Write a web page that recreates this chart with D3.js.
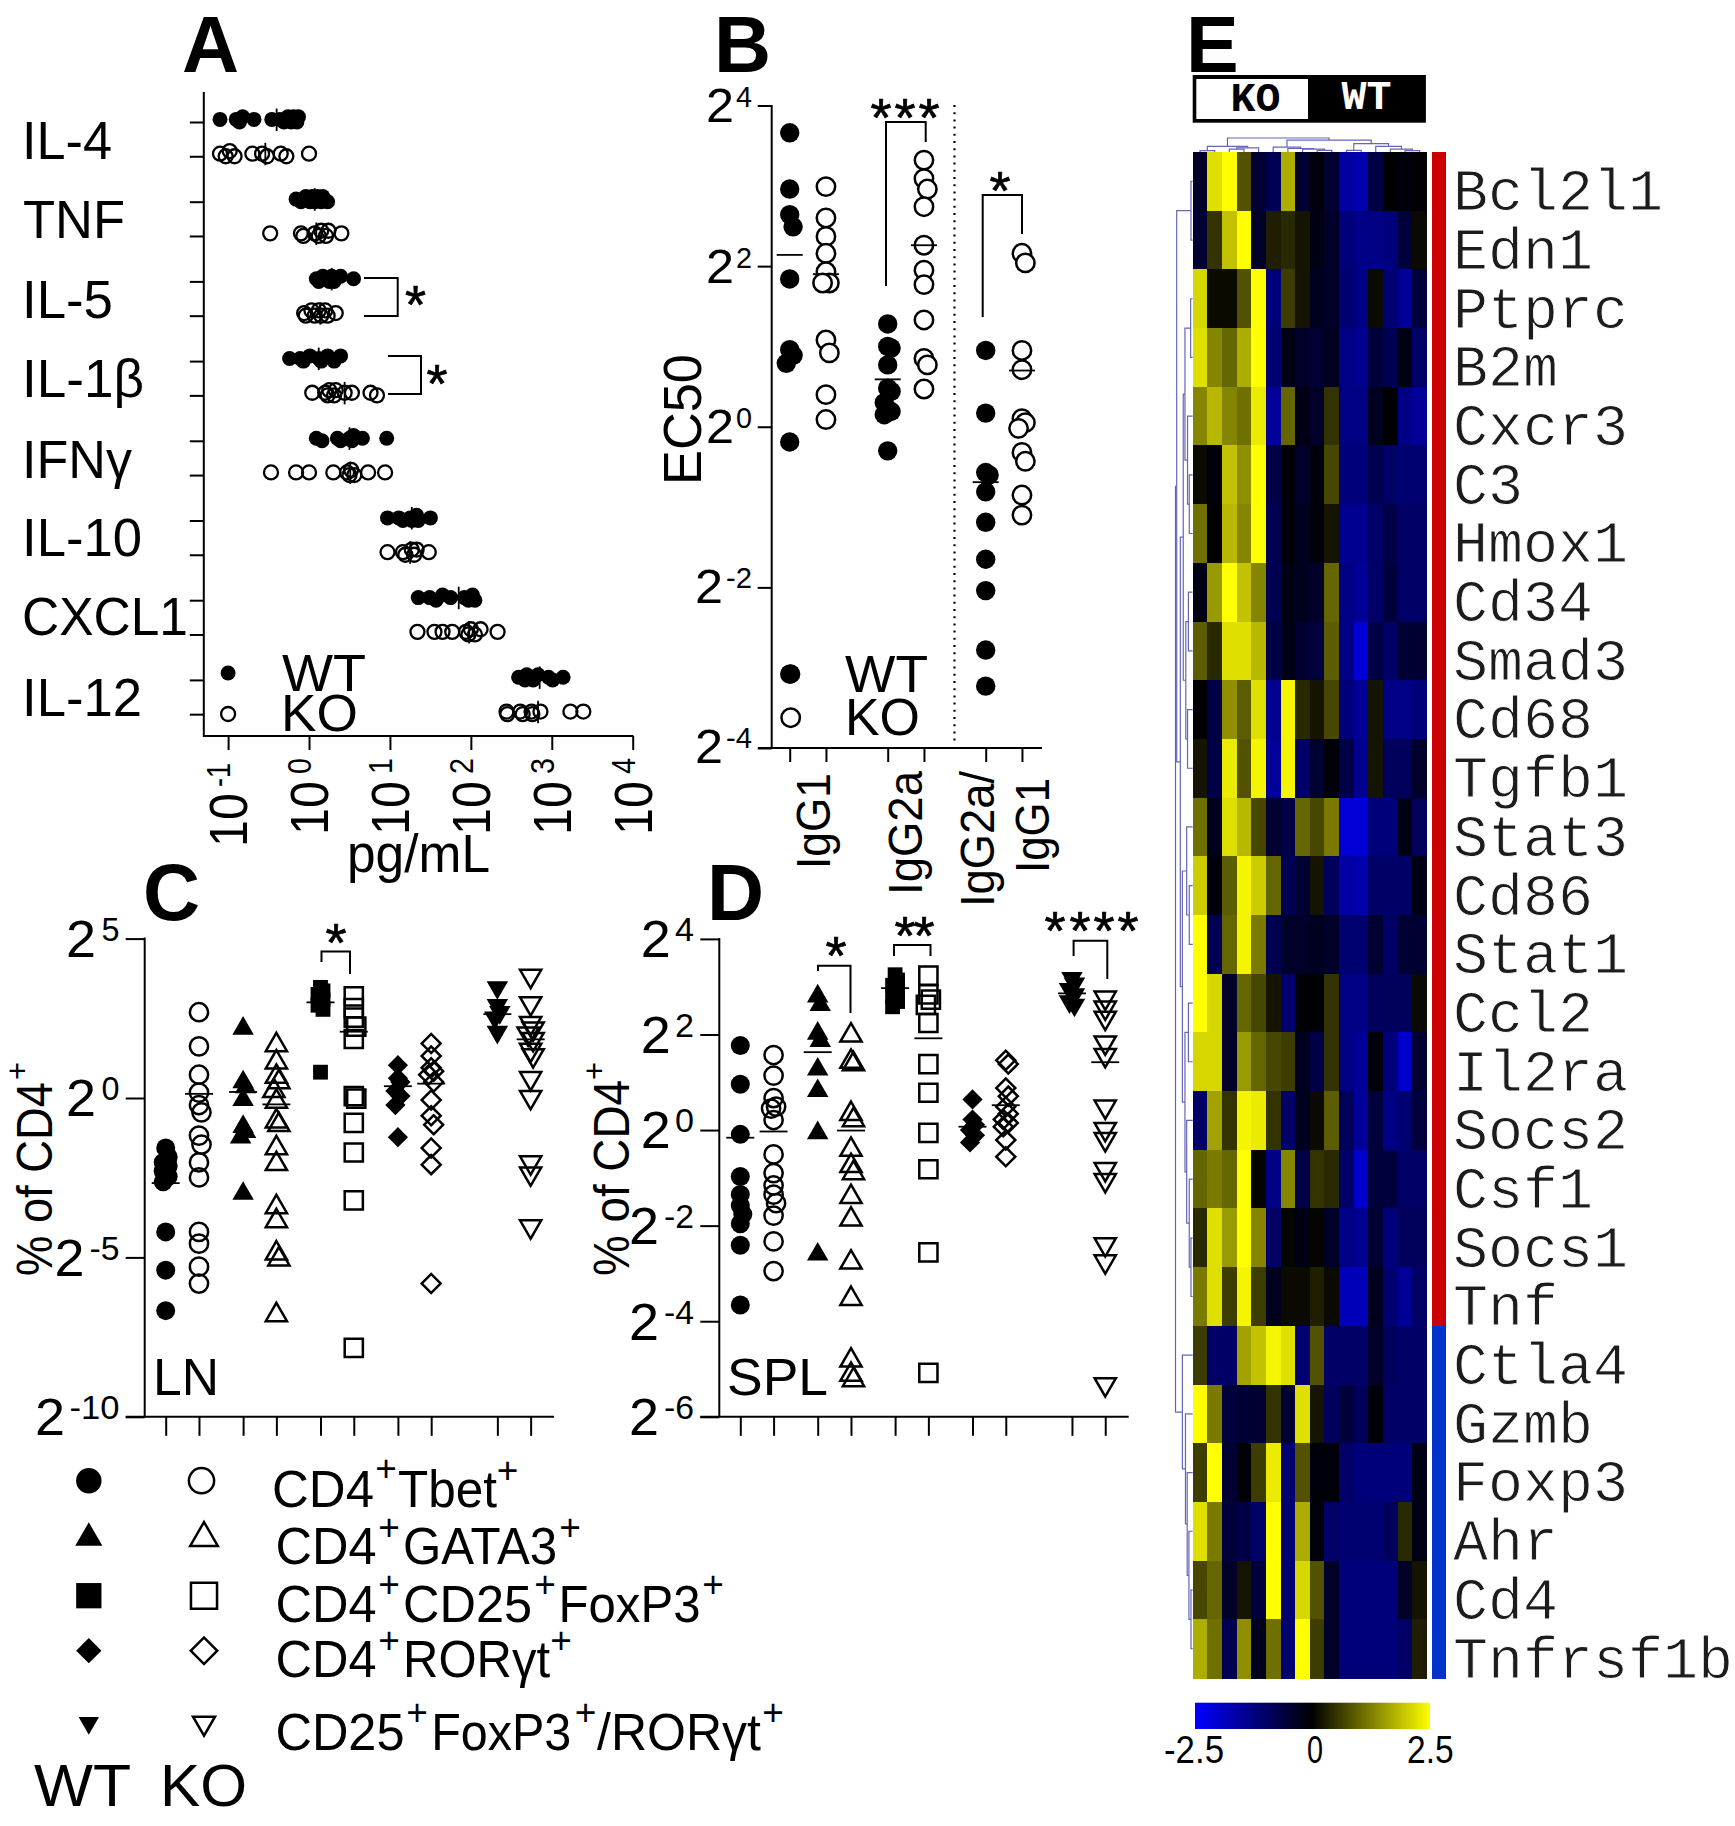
<!DOCTYPE html>
<html>
<head>
<meta charset="utf-8">
<title>Panels A-E</title>
<script src="https://cdnjs.cloudflare.com/ajax/libs/d3/7.8.5/d3.min.js"></script>
<style>
body { margin: 0; background: #fff; }
text { font-family: "Liberation Sans", Arial, sans-serif; fill: #000; }
text.gene { font-family: "Liberation Mono", monospace; fill: #1c1c1c; stroke: #fff; stroke-width: 0.85; }
text.mono { font-family: "Liberation Mono", monospace; font-weight: bold; }
</style>
</head>
<body>
<svg id="figure" width="1735" height="1826"></svg>
<script>
// panel A, log10 pg/mL
var cytokines = ["IL-4", "TNF", "IL-5", "IL-1β", "IFNγ", "IL-10", "CXCL1", "IL-12"];
var cytokineWt = [
	[-1.10,-0.90,-0.86,-0.82,-0.68,-0.46,-0.36,-0.31,-0.26,-0.22,-0.19,-0.15,-0.13],
	[-0.16,-0.10,-0.04,0.01,0.04,0.07,0.10,0.15,0.17,0.23],
	[0.09,0.12,0.17,0.25,0.28,0.31,0.39,0.55],
	[-0.24,-0.11,-0.07,0.01,0.12,0.15,0.23,0.31,0.39],
	[0.09,0.16,0.35,0.39,0.50,0.53,0.55,0.66,0.96],
	[0.97,1.11,1.16,1.25,1.27,1.33,1.35,1.50],
	[1.35,1.49,1.57,1.65,1.75,1.92,1.97,2.02,2.05],
	[2.59,2.67,2.69,2.77,2.83,2.96,3.01,3.14]
];
var cytokineKo = [
	[-1.10,-1.03,-0.98,-0.92,-0.70,-0.58,-0.52,-0.35,-0.28,0.00],
	[-0.48,-0.10,-0.07,0.07,0.12,0.15,0.21,0.24,0.40],
	[-0.06,-0.04,0.03,0.07,0.12,0.15,0.20,0.23,0.33],
	[0.04,0.20,0.23,0.25,0.31,0.33,0.44,0.53,0.76,0.84],
	[-0.47,-0.16,0.00,0.30,0.47,0.50,0.52,0.56,0.73,0.94],
	[0.97,1.16,1.19,1.27,1.30,1.33,1.48],
	[1.34,1.55,1.65,1.77,1.94,1.97,2.00,2.05,2.12,2.33],
	[2.44,2.45,2.61,2.64,2.75,2.76,2.86,3.23,3.39]
];
var cytokineMeanWt = [-0.40,0.07,0.28,0.12,0.50,1.27,1.85,2.85];
var cytokineMeanKo = [-0.54,0.09,0.14,0.44,0.51,1.25,1.98,2.83];
var decades = [-1, 0, 1, 2, 3, 4];

// panel B, log2 EC50
var isotypes = ["IgG1", "IgG2a", "IgG2a/IgG1"];
var ec50Wt = [
	[3.66,2.96,2.64,2.49,1.84,0.96,0.89,0.79,-0.19,-3.08],
	[1.28,1.00,0.98,0.77,0.48,0.44,0.30,0.19,0.15,-0.30],
	[0.95,0.17,-0.57,-0.60,-0.81,-1.19,-1.65,-2.04,-2.78,-3.23]
];
var ec50Ko = [
	[2.99,2.60,2.37,2.16,1.93,1.79,1.79,1.08,0.92,0.40,0.09],
	[3.32,3.09,2.96,2.74,2.26,1.95,1.77,1.33,0.85,0.77,0.47],
	[2.16,2.04,0.95,0.71,0.10,0.05,-0.02,-0.32,-0.43,-0.85,-1.10]
];
var ec50MeanWt = [2.14, 0.59, -0.69];
var ec50MeanKo = [1.90, 2.26, 0.70];
var ec50Ticks = [4, 2, 0, -2, -4];

// panels C and D, log2 % of CD4+
var subsets = ["circle", "triangle", "square", "diamond", "down"];
var subsetPos = [0, 1, 2, 3, 4.285];
var lnWt = [
	[-1.57,-1.85,-2.02,-2.13,-2.30,-2.46,-2.63,-4.20,-5.40,-6.67],
	[2.18,0.50,0.34,-0.06,-0.90,-1.06,-1.23,-3.00],
	[3.47,3.36,3.25,3.08,2.91,2.78,0.81],
	[1.03,0.62,0.50,0.22,0.06,-0.22,-1.23],
	[3.47,2.91,2.69,2.52,2.07]
];
var lnKo = [
	[2.69,1.62,0.73,0.17,-0.22,-0.45,-1.18,-1.46,-2.02,-2.49,-4.20,-4.57,-5.29,-5.82],
	[1.66,1.12,0.67,0.50,0.22,-0.11,-0.73,-0.84,-1.57,-2.07,-3.42,-3.86,-4.87,-5.06,-6.81],
	[3.19,2.82,2.52,2.24,1.85,0.06,-0.02,-0.78,-1.71,-3.21,-7.84],
	[1.71,1.32,0.95,0.84,0.73,0.50,-0.06,-0.56,-0.84,-1.57,-2.09,-5.82],
	[3.83,2.97,2.35,2.18,2.02,1.85,1.51,1.34,0.62,0.03,-2.02,-2.37,-4.03]
];
var lnMeanWt = [-2.67, 0.19, 3.00, 0.37, 2.63];
var lnMeanKo = [0.13, -0.20, 2.08, 0.45, 1.84];
var lnTicks = [5, 0, -5, -10];

var splWt = [
	[1.77,0.96,-0.09,-0.97,-1.35,-1.58,-1.76,-1.96,-2.41,-3.66],
	[2.80,2.62,2.02,1.87,1.27,0.82,-0.06,-2.60],
	[3.25,3.14,3.03,2.91,2.80,2.69,2.58],
	[0.64,0.22,0.11,0.00,-0.11,-0.26],
	[3.18,3.06,2.95,2.84,2.69,2.62]
];
var splKo = [
	[1.57,1.14,0.67,0.49,0.45,0.21,-0.51,-0.90,-1.16,-1.35,-1.53,-1.79,-2.33,-2.95],
	[1.98,1.43,1.38,0.34,0.21,-0.41,-0.75,-0.90,-1.40,-1.87,-2.77,-3.53,-4.82,-5.12,-5.23],
	[3.23,2.84,2.73,2.62,2.24,1.38,0.78,-0.06,-0.82,-2.56,-5.08],
	[1.46,1.38,0.88,0.71,0.49,0.34,0.22,0.15,0.07,-0.21,-0.56],
	[2.77,2.56,2.35,1.83,1.57,0.49,0.02,-0.19,-0.82,-1.05,-2.39,-2.75,-5.32]
];
var splMeanWt = [-0.16, 1.63, 2.97, 0.07, 2.86];
var splMeanKo = [-0.03, -0.01, 1.92, 0.52, 1.42];
var splTicks = [4, 2, 0, -2, -4, -6];

// panel E
var genes = ["Bcl2l1","Edn1","Ptprc","B2m","Cxcr3","C3","Hmox1","Cd34","Smad3","Cd68","Tgfb1","Stat3","Cd86","Stat1","Ccl2","Il2ra","Socs2","Csf1","Socs1","Tnf","Ctla4","Gzmb","Foxp3","Ahr","Cd4","Tnfrsf1b"];
var geneGroups = ["up","up","up","up","up","up","up","up","up","up","up","up","up","up","up","up","up","up","up","up","down","down","down","down","down","down"];
var expression = [
	[-0.4,2.2,2.5,0.8,-0.5,-0.8,1.7,-0.5,-0.1,-0.5,-1.6,-1.7,-0.7,0,-0.1,-0.05],
	[-0.5,0.5,1.9,2.5,-0.4,0.3,0.4,0.2,-0.2,-0.4,-1.2,-1.3,-1.3,-1.2,-0.6,0.1],
	[2.1,0.1,0.1,0.8,2.5,-1.2,0.6,0.2,-0.3,-0.4,-1.1,-1.3,0.1,-1.1,-1.5,-0.6],
	[2.2,1.3,1.0,1.7,2.5,-1.1,-0.2,-0.4,-0.5,-0.3,-1.3,-1.4,-0.6,-0.8,-0.2,-1.0],
	[1.3,1.8,1.3,1.1,2.3,-1.5,1.0,-0.2,-0.4,0.5,-1.3,-1.3,-0.3,0,-1.3,-1.5],
	[0.1,-0.1,1.9,1.4,2.5,-0.7,-0.1,-0.4,-0.1,0.7,-1.2,-1.2,-0.8,-1,-1.1,-1.1],
	[1.1,0,1.8,1.3,2.5,-0.8,-0.1,-0.3,-0.1,0.2,-1.4,-1.4,-1,-0.7,-1,-1],
	[-0.2,1.5,2.5,1.9,1.3,-0.8,-0.2,-0.3,-0.4,1.0,-1.3,-1.5,-1,-0.6,-1,-1],
	[0.9,0.4,2.2,2.2,1.8,-0.7,-0.2,-0.5,-0.6,0.9,-1.3,-2.1,-0.7,-1,-0.5,-0.5],
	[0,-0.7,1.4,0.9,2.2,-1.4,2.4,0.4,0.2,0.7,-1.2,-1.5,0.2,-1.3,-1.3,-1.2],
	[0.2,-0.7,2.3,0.8,2.4,-1.5,2.4,-1.0,-0.5,-0.1,-0.7,-1.4,0.2,-0.9,-0.9,-0.4],
	[1.1,-0.3,2.2,1.8,0.7,-0.5,-0.7,1.0,0.7,1.2,-2.1,-2.1,-1.2,-1.2,-0.2,-0.9],
	[2.0,-0.1,0.9,2.4,2.0,1.0,-0.8,-0.5,0.2,-0.9,-1.6,-1.7,-1,-1,-1,-0.2],
	[2.5,-0.8,1.0,2.4,1.2,-0.8,-0.4,-0.4,-0.3,-0.4,-1.1,-1.1,-0.5,-1,-0.5,-0.5],
	[2.5,2.1,-0.4,1.0,0.7,0.2,-1.1,-0.05,-0.05,0.5,-1.3,-1.3,-0.9,-0.9,-0.9,0.1],
	[2.1,2.1,-0.4,1.5,1.0,0.7,0.6,-0.3,-0.7,0.5,-1.3,-1.5,-0.1,-1.2,-2,-0.5],
	[-1,1.6,0.5,2.4,2.3,0.5,-1,-0.3,0.1,0.9,-0.9,-1.5,-0.6,-1.3,-1.1,-0.6],
	[1.0,1.2,1.0,2.5,0.05,-1.3,1.3,-0.7,0.5,0.4,-1,-2,-0.6,-0.6,-1,-1],
	[0.4,2.2,1.5,2.5,1.3,-1,0.05,-0.2,0.05,-0.4,-1.3,-1.4,-0.5,-1.2,-0.9,-0.9],
	[1.2,2.2,0.6,2.4,0.6,-0.3,0.1,0.1,0.3,0.1,-1.8,-1.8,-0.3,-1.1,-1.5,-1],
	[0.6,-1,-1,1.6,1.9,2.4,2.2,-1.1,0.8,-1,-1,-1,-0.4,-0.9,-1,-1],
	[2.5,1.2,-0.6,-0.5,-0.5,0.5,-0.5,2.2,0.2,-0.9,-0.6,-0.9,-0.1,-1,-1,-1],
	[0.6,2.5,-0.5,-0.05,0.6,2.3,-1.1,0.8,-0.1,-0.1,-1,-1.2,-1.2,-1.2,-1.2,-0.2],
	[2.2,1.2,-0.6,-0.7,-1,2.5,-1.1,1.7,-0.1,-1,-1.1,-1.1,-1.1,-0.9,0.4,-0.2],
	[0.7,1.0,-0.4,0.2,-0.6,2.5,-1.1,2.1,0.8,-0.4,-1.2,-1.2,-1.2,-1.2,-0.4,0.2],
	[1.7,1.1,-0.8,1.4,-0.3,1.1,-1.1,2.5,0.6,-0.4,-1.2,-1.2,-1.2,-1.2,-1,0.3]
];
// [height, left, right], leaves are the row / column index
var rowTree = [1,
	[.93,[.1,0,1],[.72,[.55,[.45,[.12,2,3],[.3,4,[.2,5,6]]],[.4,[.25,7,8],[.3,9,10]]],
		[.6,[.35,11,[.2,12,13]],[.45,[.25,14,15],[.35,16,[.2,17,[.1,18,19]]]]]]],
	[.6,20,[.42,21,[.32,22,[.22,23,[.1,24,25]]]]]];
var colTree = [1,
	[.4,[.1,0,1],[.3,[.2,2,3],4]],
	[.85,[.35,5,[.25,6,[.2,7,[.12,8,9]]]],[.6,[.12,10,11],[.4,12,[.2,13,[.1,14,15]]]]]];
var colorDomain = [-2.5, 0, 2.5];


var svg = d3.select("svg#figure");
svg.append("rect").attr("width", 1735).attr("height", 1826).attr("fill", "#fff");

function label(str, x, y, size, len, parent) {
	var t = (parent || svg).append("text").attr("x", x).attr("y", y)
		.attr("font-size", size).text(str);
	if (len) t.attr("textLength", len).attr("lengthAdjust", "spacingAndGlyphs");
	return t;
}
function vlabel(str, x, y, size, len) {
	return label(str, x, y, size, len).attr("transform", "rotate(-90," + x + "," + y + ")");
}
function title(str, x, y) {
	return label(str, x, y, 79).attr("font-weight", "bold");
}
function star(x, yc, size) {
	return label("*", x, yc + size * 0.49, size).attr("text-anchor", "middle")
		.attr("stroke", "#000").attr("stroke-width", 0.7);
}
function plus(x, yc, size) {
	size = size || 37;
	return label("+", x, yc + size * 0.35, size).attr("text-anchor", "middle");
}
function line(x1, y1, x2, y2, w) {
	return svg.append("line").attr("x1", x1).attr("y1", y1).attr("x2", x2).attr("y2", y2)
		.attr("stroke", "#000").attr("stroke-width", w || 2);
}
function bracket(pts) {
	svg.append("path").attr("d", d3.line()(pts)).attr("fill", "none")
		.attr("stroke", "#000").attr("stroke-width", 2);
}
// spreads neighbours a little to both sides, like a Prism scatter column
function dodge(vals, scale, gap, step) {
	var order = d3.range(vals.length).sort(function(a, b) { return scale(vals[a]) - scale(vals[b]); });
	var out = [], prev = null, off = 0;
	order.forEach(function(i) {
		if (prev !== null && Math.abs(scale(vals[i]) - prev) < gap) off = off > 0 ? -step : step;
		else off = 0;
		out[i] = off;
		prev = scale(vals[i]);
	});
	return out;
}
function symbolPath(shape, area) {
	var type = (shape === "circle") ? d3.symbolCircle : (shape === "triangle" || shape === "down") ? d3.symbolTriangle : d3.symbolSquare;
	return d3.symbol().type(type).size(area)();
}
var shapeTurn = { diamond: 45, down: 180 };
var filledArea = { circle: 283, triangle: 200, square: 220, diamond: 205, down: 200 };
var openArea = { circle: 262, triangle: 195, square: 330, diamond: 180, down: 195 };

function drawMarker(g, shape, filled, x, y, area) {
	g.append("path").attr("d", symbolPath(shape, area))
		.attr("transform", "translate(" + x + "," + y + ")" + (shapeTurn[shape] ? " rotate(" + shapeTurn[shape] + ")" : ""))
		.attr("fill", filled ? "#000" : "none")
		.attr("stroke", "#000").attr("stroke-width", filled ? 0 : 2.5);
}

// ---------- A ----------
var xA = d3.scaleLinear().domain([-1, 4]).range([228.1, 632.7]);
var yA = d3.scaleLinear().domain([0, 8]).range([122, 759.6]);
var koShift = 0.43;
var gA = svg.append("g");

function cytokineRow(vals, mean, rowPos, filled) {
	var off = dodge(vals, xA, 7, 2.6);
	gA.selectAll(null).data(vals).enter().append("circle")
		.attr("cx", function(d) { return xA(d); })
		.attr("cy", function(d, i) { return yA(rowPos) - 2.6 + off[i]; })
		.attr("r", filled ? 7.5 : 7)
		.attr("fill", filled ? "#000" : "none")
		.attr("stroke", "#000").attr("stroke-width", filled ? 0 : 2.3);
	line(xA(mean), yA(rowPos) - 13.5, xA(mean), yA(rowPos) + 9, 1.8);
}
cytokines.forEach(function(c, i) {
	cytokineRow(cytokineWt[i], cytokineMeanWt[i], i, true);
	cytokineRow(cytokineKo[i], cytokineMeanKo[i], i + koShift, false);
});
var axisLeftA = d3.axisLeft(yA)
	.tickValues(d3.merge(cytokines.map(function(c, i) { return [i, i + koShift]; })))
	.tickSize(14).tickFormat("");
svg.append("g").attr("transform", "translate(203.8,0)").call(axisLeftA)
	.call(function(g) { g.select(".domain").remove(); })
	.selectAll("line").attr("stroke-width", 2);
line(203.8, 92, 203.8, 737);
line(203, 736, 633.5, 736);
var axisBottomA = d3.axisBottom(xA).tickValues(decades).tickSize(14).tickFormat("");
svg.append("g").attr("transform", "translate(0,736)").call(axisBottomA)
	.call(function(g) { g.select(".domain").remove(); })
	.selectAll("line").attr("stroke-width", 2);

var cytokineLabelX = [22, 23, 22, 22, 22, 22, 22, 22];
var cytokineLabelW = [90, 102, 91, 122, 110, 120, 166, 120];
var cytokineLabelY = [159, 238, 318, 397, 478, 556, 635, 716];
cytokines.forEach(function(c, i) {
	label(c, cytokineLabelX[i], cytokineLabelY[i], 54, cytokineLabelW[i]);
});
decades.forEach(function(d) {
	var neg = d < 0;
	vlabel("10", xA(d) + 19.2, neg ? 847 : 835, 54, 54);
	vlabel(String(d), xA(d) + 2.2, neg ? 787 : 774, 34, neg ? 24 : 16);
});
label("pg/mL", 347, 872, 53, 143);
gA.append("circle").attr("cx", xA(-1)).attr("cy", 673).attr("r", 7.5).attr("fill", "#000");
gA.append("circle").attr("cx", xA(-1)).attr("cy", 714).attr("r", 7).attr("fill", "none").attr("stroke", "#000").attr("stroke-width", 2.3);
label("WT", 282, 691, 52, 84);
label("KO", 281, 731, 52, 77);
bracket([[364, 278], [397.7, 278], [397.7, 316], [364, 316]]);
star(415.4, 297, 54);
bracket([[388, 356], [421, 356], [421, 394], [388, 394]]);
star(437, 376, 54);
title("A", 182, 72);

// ---------- B ----------
var xB = d3.scaleLinear().domain([0, 2]).range([789.7, 985.7]);
var yB = d3.scaleLinear().domain([4, -4]).range([105.5, 748]);
var koShiftB = 0.37;
var gB = svg.append("g");

function ec50Column(vals, mean, pos, filled) {
	var off = dodge(vals, yB, 14, 3.4);
	gB.selectAll(null).data(vals).enter().append("circle")
		.attr("cx", function(d, i) { return xB(pos) + off[i]; })
		.attr("cy", function(d) { return yB(d); })
		.attr("r", filled ? 9.7 : 9.2)
		.attr("fill", filled ? "#000" : "#fff")
		.attr("stroke", "#000").attr("stroke-width", filled ? 0 : 2.5);
	line(xB(pos) - 13, yB(mean), xB(pos) + 13, yB(mean), 1.8);
}
isotypes.forEach(function(c, i) {
	ec50Column(ec50Wt[i], ec50MeanWt[i], i, true);
	ec50Column(ec50Ko[i], ec50MeanKo[i], i + koShiftB, false);
});
svg.append("g").attr("transform", "translate(771.7,0)")
	.call(d3.axisLeft(yB).tickValues(ec50Ticks).tickSize(14).tickFormat(""))
	.call(function(g) { g.select(".domain").remove(); })
	.selectAll("line").attr("stroke-width", 2);
line(771.7, 105, 771.7, 749);
line(758, 748, 1042, 748);
svg.append("g").attr("transform", "translate(0,748)")
	.call(d3.axisBottom(xB)
		.tickValues(d3.merge(isotypes.map(function(c, i) { return [i, i + koShiftB]; })))
		.tickSize(14).tickFormat(""))
	.call(function(g) { g.select(".domain").remove(); })
	.selectAll("line").attr("stroke-width", 2);
line(954.5, 105, 954.5, 745, 2.2).attr("stroke-dasharray", "2 5.2");

var ec50LabelBase = [122, 283, 443, 603, 763];
var ec50LabelX = [706, 706, 706, 695, 695];
ec50Ticks.forEach(function(d, i) {
	label("2", ec50LabelX[i], ec50LabelBase[i], 48, 28);
	label(String(d), 752, ec50LabelBase[i] - 15, 30, d < 0 ? 26 : 16).attr("text-anchor", "end");
});
vlabel("EC50", 701, 485, 54, 131);
vlabel("IgG1", 830, 869, 49, 96);
vlabel("IgG2a", 922, 895, 49, 124);
vlabel("IgG2a/", 994, 907, 49, 136);
vlabel("IgG1", 1049, 873, 49, 95);
gB.append("circle").attr("cx", 790.7).attr("cy", 674).attr("r", 9.7).attr("fill", "#000");
gB.append("circle").attr("cx", 790.7).attr("cy", 717.7).attr("r", 9.2).attr("fill", "#fff").attr("stroke", "#000").attr("stroke-width", 2.5);
label("WT", 845, 692, 52, 83);
label("KO", 845, 735, 52, 75);
bracket([[886, 286], [886, 122], [925.7, 122], [925.7, 142]]);
[881, 905, 929].forEach(function(x) { star(x, 110, 54); });
bracket([[982.7, 317], [982.7, 195], [1022, 195], [1022, 234]]);
star(1000, 183, 54);
title("B", 714, 72);

// ---------- C and D ----------
var xC = d3.scaleLinear().domain([0, 1]).range([165.7, 243.1]);
var xD = d3.scaleLinear().domain([0, 1]).range([740.3, 817.7]);
var yC = d3.scaleLinear().domain([5, -10]).range([938.6, 1416.8]);
var yD = d3.scaleLinear().domain([4, -6]).range([938.9, 1416.8]);
var koShiftC = 0.43;

function flowPanel(xs, ys, wt, ko, meanWt, meanKo, ticks, axisX, axisEnd, gap) {
	var g = svg.append("g");
	subsets.forEach(function(shape, i) {
		var xw = xs(subsetPos[i]), xk = xs(subsetPos[i] + koShiftC);
		var offW = dodge(wt[i], ys, gap, 2.5), offK = dodge(ko[i], ys, gap, 2.5);
		wt[i].forEach(function(v, j) { drawMarker(g, shape, true, xw + offW[j], ys(v), filledArea[shape]); });
		ko[i].forEach(function(v, j) { drawMarker(g, shape, false, xk + offK[j], ys(v), openArea[shape]); });
		line(xw - 14, ys(meanWt[i]), xw + 14, ys(meanWt[i]), 1.8);
		line(xk - 14, ys(meanKo[i]), xk + 14, ys(meanKo[i]), 1.8);
	});
	svg.append("g").attr("transform", "translate(" + axisX + ",0)")
		.call(d3.axisLeft(ys).tickValues(ticks).tickSize(19).tickFormat(""))
		.call(function(a) { a.select(".domain").remove(); })
		.selectAll("line").attr("stroke-width", 2);
	line(axisX, ys(ticks[0]) - 1, axisX, ys(ticks[ticks.length - 1]));
	line(axisX - 19, ys(ticks[ticks.length - 1]), axisEnd, ys(ticks[ticks.length - 1]));
	var tickPos = d3.merge(subsetPos.map(function(p) { return [p, p + koShiftC]; }));
	svg.append("g").attr("transform", "translate(0," + ys(ticks[ticks.length - 1]) + ")")
		.call(d3.axisBottom(xs).tickValues(tickPos).tickSize(19).tickFormat(""))
		.call(function(a) { a.select(".domain").remove(); })
		.selectAll("line").attr("stroke-width", 2);
}
flowPanel(xC, yC, lnWt, lnKo, lnMeanWt, lnMeanKo, lnTicks, 144.7, 554, 9);
flowPanel(xD, yD, splWt, splKo, splMeanWt, splMeanKo, splTicks, 719.3, 1128.7, 9);

var lnLabelBase = [957, 1116, 1276, 1435];
var lnLabelX = [66, 66, 54.6, 35];
lnTicks.forEach(function(d, i) {
	label("2", lnLabelX[i], lnLabelBase[i], 52, 30);
	label(String(d), 119.5, lnLabelBase[i] - 16, 33, d === -10 ? 50 : d < 0 ? 30 : 18).attr("text-anchor", "end");
});
var splLabelBase = [957, 1053, 1148, 1244, 1340, 1435];
var splLabelX = [640.7, 640.7, 640.7, 629, 629, 629];
splTicks.forEach(function(d, i) {
	label("2", splLabelX[i], splLabelBase[i], 52, 30);
	label(String(d), 694, splLabelBase[i] - 16, 33, d < 0 ? 30 : 19).attr("text-anchor", "end");
});
vlabel("% of CD4", 52, 1276, 50, 194);
plus(17, 1071, 31).attr("transform", "rotate(-90,17,1071)");
vlabel("% of CD4", 629, 1276, 50, 196);
plus(594, 1071, 31).attr("transform", "rotate(-90,594,1071)");
label("LN", 153, 1395, 52, 66);
label("SPL", 727, 1395, 52, 101);
bracket([[321.5, 962], [321.5, 951.4], [350, 951.4], [350, 974]]);
star(336, 935, 54);
bracket([[818, 971], [818, 965.7], [850.5, 965.7], [850.5, 1013]]);
star(836, 948, 54);
bracket([[894, 956], [894, 945], [930.5, 945], [930.5, 956]]);
[905, 924].forEach(function(x) { star(x, 928, 54); });
bracket([[1073.6, 956], [1073.6, 940.7], [1107.3, 940.7], [1107.3, 979]]);
[1055, 1080, 1104, 1128].forEach(function(x) { star(x, 923, 54); });
title("C", 143, 920);
title("D", 707, 920);

// legend below C and D
var legendY = [1480.7, 1538, 1595.7, 1650.7, 1723];
var legendArea = { circle: 510, triangle: 320, square: 640, diamond: 320, down: 180 };
var legendAreaOpen = { circle: 500, triangle: 330, square: 680, diamond: 350, down: 210 };
var gL = svg.append("g");
subsets.forEach(function(shape, i) {
	drawMarker(gL, shape, true, 88.8, legendY[i], legendArea[shape]);
	drawMarker(gL, shape, false, shape === "circle" ? 201.5 : 204, legendY[i], legendAreaOpen[shape]);
});
var legendText = [
	[["CD4", 274.5, 98], ["Tbet", 400.5, 95]],
	[["CD4", 278, 97], ["GATA3", 405.6, 150]],
	[["CD4", 278, 97], ["CD25", 405.6, 125], ["FoxP3", 561, 138]],
	[["CD4", 278, 97], ["RORγt", 405.6, 143]],
	[["CD25", 278, 125], ["FoxP3", 433.7, 136], ["/RORγt", 599.5, 160]]
];
var legendBase = [1507, 1564, 1622, 1677, 1750];
var legendPlus = [
	[[386, 1468], [507.5, 1470]],
	[[389, 1527], [570, 1527]],
	[[389, 1584], [545, 1584], [713, 1584]],
	[[389, 1640], [561, 1640]],
	[[417, 1712], [585.5, 1712], [773, 1712]]
];
legendText.forEach(function(row, i) {
	row.forEach(function(t) { label(t[0], t[1] - 2.5, legendBase[i], 52, t[2] + 4); });
	legendPlus[i].forEach(function(p) { plus(p[0], p[1]); });
});
label("WT", 34, 1806, 60, 97);
label("KO", 160, 1806, 60, 87);

// ---------- E ----------
var colX = d3.scaleBand().domain(d3.range(16)).range([1192.7, 1427]);
var rowY = d3.scaleBand().domain(d3.range(genes.length)).range([152, 1678]);
var heatColor = d3.scaleLinear().domain(colorDomain).range(["#0000ff", "#000000", "#ffff00"]);
var gE = svg.append("g").attr("shape-rendering", "crispEdges");
gE.selectAll("g").data(expression).enter().append("g")
	.attr("transform", function(d, i) { return "translate(0," + rowY(i) + ")"; })
	.selectAll("rect").data(function(d) { return d; }).enter().append("rect")
	.attr("x", function(d, j) { return colX(j); })
	.attr("width", colX.bandwidth() + 1)
	.attr("height", rowY.bandwidth() + 1)
	.attr("fill", function(d) { return heatColor(d); });
// last column must not spill past the edge of the map
gE.append("rect").attr("x", 1427).attr("y", 150).attr("width", 5).attr("height", 1532).attr("fill", "#fff");

gE.selectAll(null).data(geneGroups).enter().append("rect")
	.attr("x", 1432).attr("width", 13.7)
	.attr("y", function(d, i) { return rowY(i); })
	.attr("height", rowY.bandwidth() + 0.6)
	.attr("fill", function(d) { return d === "up" ? "#cc0000" : "#0033cc"; });

gE.selectAll(null).data(genes).enter().append("text")
	.attr("class", "gene")
	.attr("x", 1453)
	.attr("y", function(d, i) { return rowY(i) + rowY.bandwidth() - 0.5; })
	.attr("font-size", 58.3)
	.text(function(d) { return d; });

// dendrograms, h runs from the leaves (0) to the root (1)
var treeTop = d3.scaleLinear().domain([0, 1]).range([152, 138]);
var treeLeft = d3.scaleLinear().domain([0, 1]).range([1192.7, 1175.5]);
function walk(node, leafPos, hPos, out) {
	if (typeof node === "number") return { c: leafPos(node), h: 0 };
	var a = walk(node[1], leafPos, hPos, out), b = walk(node[2], leafPos, hPos, out);
	out.push([[a.c, hPos(a.h)], [a.c, hPos(node[0])], [b.c, hPos(node[0])], [b.c, hPos(b.h)]]);
	return { c: (a.c + b.c) / 2, h: node[0] };
}
var topLinks = [], leftLinks = [];
walk(colTree, function(j) { return colX(j) + colX.bandwidth() / 2; }, treeTop, topLinks);
walk(rowTree, function(i) { return rowY(i) + rowY.bandwidth() / 2; }, treeLeft, leftLinks);
var dendroColor = "#6666b8";
svg.append("g").selectAll("path").data(topLinks).enter().append("path")
	.attr("d", function(d) { return d3.line()(d); })
	.attr("fill", "none").attr("stroke", dendroColor).attr("stroke-width", 1.2);
svg.append("g").selectAll("path").data(leftLinks).enter().append("path")
	.attr("d", function(d) { return d3.line()(d.map(function(p) { return [p[1], p[0]]; })); })
	.attr("fill", "none").attr("stroke", dendroColor).attr("stroke-width", 1.2);

// KO / WT strip
svg.append("rect").attr("x", 1192.7).attr("y", 75).attr("width", 233.2).attr("height", 47.7).attr("fill", "#000");
svg.append("rect").attr("x", 1196.3).attr("y", 79).attr("width", 111.7).attr("height", 40).attr("fill", "#fff");
label("KO", 1255.4, 111, 40, 50).attr("class", "mono").attr("text-anchor", "middle");
label("WT", 1366.4, 109, 40, 50).attr("class", "mono").attr("text-anchor", "middle").style("fill", "#fff");

// colour key
var keyScale = d3.scaleLinear().domain([-2.5, 2.5]).range([1195, 1430]);
var grad = svg.append("defs").append("linearGradient").attr("id", "heatKey");
colorDomain.forEach(function(v) {
	grad.append("stop").attr("offset", (keyScale(v) - 1195) / 235).attr("stop-color", heatColor(v));
});
svg.append("rect").attr("x", keyScale(-2.5)).attr("y", 1702.7).attr("width", 235).attr("height", 26.3).attr("fill", "url(#heatKey)");
label("-2.5", 1164, 1763, 38, 60);
label("0", 1307, 1763, 38, 16);
label("2.5", 1407, 1763, 38, 46.6);
title("E", 1186, 72);
</script>
</body>
</html>
